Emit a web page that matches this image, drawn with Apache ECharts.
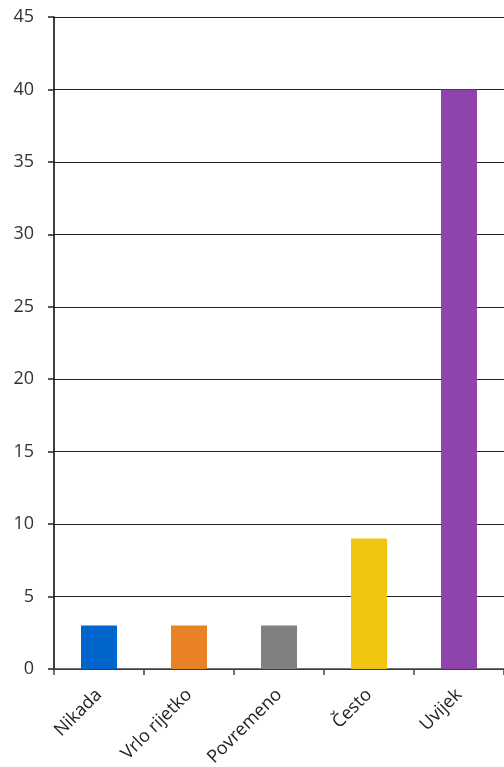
<!DOCTYPE html>
<html>
<head>
<meta charset="utf-8">
<script src="https://cdn.jsdelivr.net/npm/echarts@6/dist/echarts.min.js"></script>
<style>
html,body{margin:0;padding:0;background:#fff;}
#c{width:504px;height:767px;}
</style>
</head>
<body>
<div id="c"></div>
<script>
const categories = ['Nikada', 'Vrlo rijetko', 'Povremeno', 'Često', 'Uvijek'];
const values = [3, 3, 3, 9, 40];
const colors = ['#0066CC', '#E88224', '#808080', '#F2C511', '#8E44AD'];
const yTicks = { min: 0, max: 45, interval: 5 };

const chart = echarts.init(document.getElementById('c'), null, { renderer: 'canvas' });
chart.setOption({
  animation: false,
  backgroundColor: '#ffffff',
  grid: { left: 54, right: 0, top: 17, bottom: 98, containLabel: false, outerBoundsMode: 'none' },
  xAxis: {
    type: 'category',
    data: categories,
    boundaryGap: true,
    axisLine: { show: true, lineStyle: { color: '#444', width: 1.5 } },
    axisTick: { show: true, length: 6, lineStyle: { color: '#444', width: 1.5 } },
    axisLabel: { rotate: 45, margin: 23, fontFamily: 'Open Sans', fontSize: 18, color: '#222' },
    splitLine: { show: false }
  },
  yAxis: {
    type: 'value',
    min: yTicks.min, max: yTicks.max, interval: yTicks.interval,
    axisLine: { show: true, lineStyle: { color: '#000', width: 1.5 } },
    axisTick: { show: true, length: 6, lineStyle: { color: '#222', width: 1.5 } },
    axisLabel: { margin: 20, fontFamily: 'Open Sans', fontSize: 18, color: '#333' },
    splitLine: { show: true, lineStyle: { color: '#222', width: 1.2 } }
  },
  series: [{
    type: 'bar',
    data: values.map((v, i) => ({ value: v, itemStyle: { color: colors[i] } })),
    barWidth: '40%'
  }]
});
</script>
</body>
</html>
